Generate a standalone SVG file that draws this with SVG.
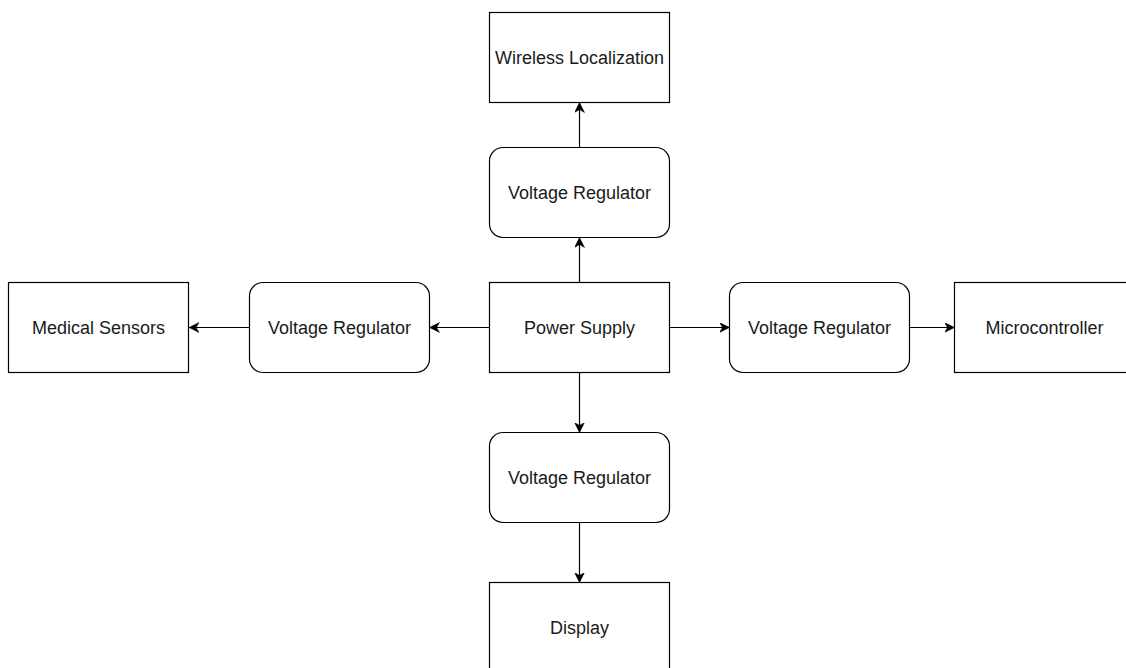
<svg xmlns="http://www.w3.org/2000/svg" width="1126" height="668" viewBox="0 0 1126 668">
<style>
.box{fill:#fff;stroke:#000;stroke-width:1.2}
.lbl{font-family:"Liberation Sans",Arial,Helvetica,sans-serif;font-size:18px;fill:#1a1a1a;text-anchor:middle;dominant-baseline:central}
.edge{stroke:#000;stroke-width:1.2;fill:none;marker-end:url(#arr)}
</style>
<defs>
<marker id="arr" markerUnits="userSpaceOnUse" markerWidth="12" markerHeight="12" refX="10" refY="5" orient="auto">
<path d="M0,0 L10,5 L0,10 L3,5 Z" fill="#000" stroke="#000" stroke-width="0.5"/>
</marker>
</defs>
<rect width="1126" height="668" fill="#fff"/>
<g id="connectors">
<line class="edge" x1="579.5" y1="282" x2="579.5" y2="237.5"/>
<line class="edge" x1="579.5" y1="147" x2="579.5" y2="102.5"/>
<line class="edge" x1="489" y1="327.5" x2="429.5" y2="327.5"/>
<line class="edge" x1="249" y1="327.5" x2="189" y2="327.5"/>
<line class="edge" x1="670" y1="327.5" x2="729.5" y2="327.5"/>
<line class="edge" x1="910" y1="327.5" x2="954.5" y2="327.5"/>
<line class="edge" x1="579.5" y1="373" x2="579.5" y2="432.5"/>
<line class="edge" x1="579.5" y1="523" x2="579.5" y2="582.5"/>
</g>
<g id="wireless">
<rect class="box" x="489.5" y="12.5" width="180" height="90"/>
<text class="lbl" x="579.5" y="57.5">Wireless Localization</text>
</g>
<g id="vr-top">
<rect class="box" x="489.5" y="147.5" width="180" height="90" rx="13.5" ry="13.5"/>
<text class="lbl" x="579.5" y="192.5">Voltage Regulator</text>
</g>
<g id="power-supply">
<rect class="box" x="489.5" y="282.5" width="180" height="90"/>
<text class="lbl" x="579.5" y="327.5">Power Supply</text>
</g>
<g id="vr-bottom">
<rect class="box" x="489.5" y="432.5" width="180" height="90" rx="13.5" ry="13.5"/>
<text class="lbl" x="579.5" y="477.5">Voltage Regulator</text>
</g>
<g id="display">
<rect class="box" x="489.5" y="582.5" width="180" height="90"/>
<text class="lbl" x="579.5" y="627.5">Display</text>
</g>
<g id="medical-sensors">
<rect class="box" x="8.5" y="282.5" width="180" height="90"/>
<text class="lbl" x="98.5" y="327.5">Medical Sensors</text>
</g>
<g id="vr-left">
<rect class="box" x="249.5" y="282.5" width="180" height="90" rx="13.5" ry="13.5"/>
<text class="lbl" x="339.5" y="327.5">Voltage Regulator</text>
</g>
<g id="vr-right">
<rect class="box" x="729.5" y="282.5" width="180" height="90" rx="13.5" ry="13.5"/>
<text class="lbl" x="819.5" y="327.5">Voltage Regulator</text>
</g>
<g id="microcontroller">
<rect class="box" x="954.5" y="282.5" width="180" height="90"/>
<text class="lbl" x="1044.5" y="327.5">Microcontroller</text>
</g>
</svg>
